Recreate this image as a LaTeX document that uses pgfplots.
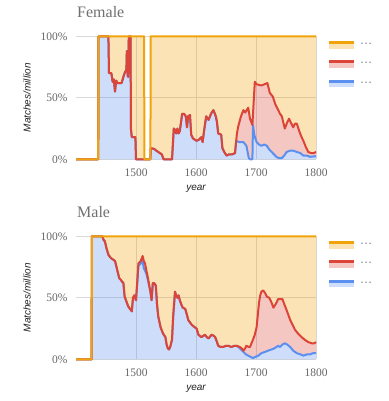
\documentclass[border=0pt]{standalone}
\usepackage{fontspec}
\setmainfont{Liberation Serif}
\setsansfont{Liberation Sans}
\usepackage{pgfplots}
\usepackage{pgfplotstable}
\pgfplotsset{compat=1.18}
\usepgfplotslibrary{fillbetween}
\definecolor{oline}{HTML}{F1A30C}
\definecolor{rline}{HTML}{DC4437}
\definecolor{bline}{HTML}{5B8FF0}
\definecolor{gridc}{HTML}{D9D9D9}
\definecolor{basec}{HTML}{A6A6A6}
\definecolor{tickc}{HTML}{666666}
\definecolor{titlec}{HTML}{707070}
\definecolor{labc}{HTML}{222222}
\definecolor{dotc}{HTML}{7A8499}

% ---------- Female ----------
\pgfplotstableread{
x y
1400 0
1437 0
1437.5 100
1513.5 100
1514 0
1524 0
1524.5 100
1800 100
}\femO
\pgfplotstableread{
x y
1400 0
1437 0
1437.5 100
1454 100
1455 70
1459 70
1461 63
1463 65
1465 55
1467 64
1469 62
1476 62
1479 67
1481 70
1484 73
1484.7 88
1486 68
1487 67
1488 100
1491 100
1491.5 25
1493 18
1499 18
1500 0
1524 0
1524.5 9
1530 8.5
1534 7
1540 5
1543 4
1546 0
1560 0
1563 25
1565 24
1567 21
1569 25
1571 21
1573 23
1577 37
1580 37
1583 35
1585 26
1587 35
1590 36
1592 20
1595 17
1601 15
1605 16
1609 18
1611 14
1614 25
1617 35
1621 32
1625 37
1629 40
1633 35
1635 30
1637 21
1642 20
1644 9
1647 6
1651 3
1655 4
1660 4
1665 5
1668 20
1670 26
1675 35
1679 40
1682 38
1687 42
1690 33
1694 28
1698 63
1701 61
1709 60
1714 61
1719 62
1723 54
1728 51
1732 45
1737 40
1740 37
1743 35
1748 25
1752 30
1755 33
1758 30
1762 26
1765 29
1768 29
1772 23
1776 18
1779 15
1783 10
1787 6
1792 5
1796 5
1800 6
}\femR
\pgfplotstableread{
x y
1400 0
1437 0
1437.5 100
1454 100
1455 70
1459 70
1461 63
1463 65
1465 55
1467 64
1469 62
1476 62
1479 67
1481 70
1484 73
1484.7 88
1486 68
1487 67
1488 100
1491 100
1491.5 25
1493 18
1499 18
1500 0
1524 0
1524.5 9
1530 8.5
1534 7
1540 5
1543 4
1546 0
1560 0
1563 25
1565 24
1567 21
1569 25
1571 21
1573 23
1577 37
1580 37
1583 35
1585 26
1587 35
1590 36
1592 20
1595 17
1601 15
1605 16
1609 18
1611 14
1614 25
1617 35
1621 32
1625 37
1629 40
1633 35
1635 30
1637 21
1642 20
1644 9
1647 6
1651 3
1655 4
1660 4
1665 5
1667 15
1672 14
1679 14
1684 11
1686 6
1688 1
1690 0
1694 0
1695 28
1697 20
1701 14
1705 12
1709 11
1714 12
1718 11
1722 8
1726 6
1730 4
1734 2
1738 1
1743 1
1747 3
1751 6
1757 7
1762 7
1768 6
1774 5
1779 3
1785 3
1790 2
1800 2.5
}\femB

% ---------- Male ----------
\pgfplotstableread{
x y
1400 0
1426 0
1426.5 100
1800 100
}\malO
\pgfplotstableread{
x y
1400 0
1426 0
1426.5 100
1444 100
1446 97
1448 96
1451 90
1454 85
1457 83
1459 82
1462 81
1465 80
1468 74
1470 70
1472 66
1474 65
1477 63
1479 62
1481 51
1484 47
1487 43
1490 41
1493 39
1495 50
1497 52
1500 48
1502 62
1504 78
1508 80
1511 84
1513 80
1515 78
1517 73
1520 66
1522 60
1524 55
1526 48
1528 62
1530 62
1533 60
1535 45
1537 35
1541 26
1545 21
1549 18
1551 12
1553 9
1555 8
1557 10
1560 16
1562 35
1565 55
1567 52
1569 50
1571 52
1573 48
1576 44
1578 42
1582 41
1585 36
1587 32
1590 30
1593 28
1598 26
1601 25
1604 20
1609 18
1615 20
1618 18
1621 17
1626 20
1630 19
1632 18
1635 14
1637 11
1641 10
1645 10
1650 11
1654 11
1659 10
1664 11
1668 11
1673 10
1676 9
1679 7
1682 9
1684 11
1688 10
1690 10
1695 16
1698 20
1701 26
1703 36
1705 46
1707 52
1709 55
1712 56
1715 54
1718 51
1722 50
1726 46
1729 42
1733 45
1737 49
1740 49
1744 49
1747 45
1751 40
1754 36
1757 32
1761 28
1765 24
1770 21
1776 18
1781 16
1787 14
1793 13
1797 13
1800 14
}\malR
\pgfplotstableread{
x y
1400 0
1426 0
1426.5 100
1444 100
1446 97
1448 96
1451 90
1454 85
1457 83
1459 82
1462 81
1465 80
1468 74
1470 70
1472 66
1474 65
1477 63
1479 62
1481 51
1484 47
1487 43
1490 41
1493 39
1495 50
1497 52
1500 48
1502 62
1504 76
1508 78
1511 80
1513 74
1515 72
1517 70
1520 64
1522 60
1524 55
1526 48
1528 62
1530 62
1533 60
1535 45
1537 35
1541 26
1545 21
1549 18
1551 12
1553 9
1555 8
1557 10
1560 16
1562 35
1565 55
1567 52
1569 50
1571 52
1573 48
1576 44
1578 42
1582 41
1585 36
1587 32
1590 30
1593 28
1598 26
1601 25
1604 20
1609 18
1615 20
1618 18
1621 17
1626 20
1630 19
1632 18
1635 14
1637 11
1641 10
1645 10
1650 11
1654 11
1659 10
1664 11
1668 11
1673 9
1679 6
1683 4
1687 3
1691 2
1695 1
1699 2
1704 3
1709 5
1715 6
1720 7
1726 8
1731 9
1737 11
1740 10
1744 12
1748 13
1752 12
1757 10
1762 7
1768 5
1774 4
1779 3
1785 4
1790 4
1795 5
1800 5
}\malB

\pgfplotsset{
  panel/.style={
    scale only axis,
    width=240bp, height=123bp,
    xmin=1400, xmax=1800, ymin=0, ymax=100,
    clip=false,
    axis line style={draw=none},
    major tick length=0pt,
    xtick={1500,1600,1700,1800},
    xticklabels={1500,1600,1700,1800},
    ytick={0,50,100},
    yticklabels={0\%,50\%,100\%},
    grid=major,
    major grid style={color=gridc, line width=1bp},
    extra y ticks={0},
    extra y tick labels={},
    extra y tick style={grid style={color=basec, line width=1bp}},
    tick label style={font=\fontsize{11.5bp}{12bp}\selectfont, text=tickc, inner sep=0pt},
    yticklabel style={anchor=east, xshift=-8.3bp},
    xticklabel style={anchor=north, yshift=-9bp},
    title style={at={(axis description cs:0,1)}, anchor=base west, xshift=1bp, yshift=13bp, inner sep=0pt,
      font=\fontsize{16bp}{16bp}\selectfont, text=titlec},
    ylabel={Matches/million},
    xlabel={year},
    ylabel style={at={(axis description cs:-0.204,0.5)}, anchor=center, inner sep=0pt,
      font=\sffamily\itshape\fontsize{10bp}{10bp}\selectfont, text=labc},
    xlabel style={at={(axis description cs:0.5,-0.238)}, anchor=center, inner sep=0pt,
      font=\sffamily\itshape\fontsize{10bp}{10bp}\selectfont, text=labc},
    legend style={draw=none, fill=none, inner sep=0pt, outer sep=0pt,
      at={(axis description cs:1.054,0.962)}, anchor=north west,
      row sep=12.3bp,
      nodes={inner sep=0pt, text=dotc, font=\sffamily\fontsize{13bp}{13bp}\selectfont}},
  },
  lg/.style={legend image code/.code={
      \fill[#1!30!white] (0bp,-3.35bp) rectangle (24bp,1.35bp);
      \fill[#1] (0bp,1.35bp) rectangle (24bp,3.35bp);}},
}

\begin{document}
\begin{tikzpicture}

\begin{axis}[panel, at={(76bp,241.7bp)}, anchor=south west, title={Female}]
\addplot[draw=none, name path=Z, forget plot] coordinates {(1400,0) (1800,0)};
\addplot[draw=none, name path=B, forget plot] table {\femB};
\addplot[draw=none, name path=R, forget plot] table {\femR};
\addplot[draw=none, name path=O, forget plot] table {\femO};
\addplot[fill=bline, fill opacity=0.3, draw=none, forget plot] fill between[of=B and Z];
\addplot[fill=rline, fill opacity=0.3, draw=none, forget plot] fill between[of=R and B];
\addplot[fill=oline, fill opacity=0.3, draw=none, forget plot] fill between[of=O and R];
\addplot[bline, line width=2bp, line join=round, forget plot] table {\femB};
\addplot[rline, line width=2bp, line join=round, forget plot] table {\femR};
\addplot[oline, line width=2bp, line join=round, forget plot] table {\femO};
\addlegendimage{lg=oline}\addlegendentry{\hspace{6.3bp}…}
\addlegendimage{lg=rline}\addlegendentry{\hspace{6.3bp}…}
\addlegendimage{lg=bline}\addlegendentry{\hspace{6.3bp}…}
\end{axis}

\begin{axis}[panel, at={(76bp,41.7bp)}, anchor=south west, title={Male}]
\addplot[draw=none, name path=Z, forget plot] coordinates {(1400,0) (1800,0)};
\addplot[draw=none, name path=B, forget plot] table {\malB};
\addplot[draw=none, name path=R, forget plot] table {\malR};
\addplot[draw=none, name path=O, forget plot] table {\malO};
\addplot[fill=bline, fill opacity=0.3, draw=none, forget plot] fill between[of=B and Z];
\addplot[fill=rline, fill opacity=0.3, draw=none, forget plot] fill between[of=R and B];
\addplot[fill=oline, fill opacity=0.3, draw=none, forget plot] fill between[of=O and R];
\addplot[bline, line width=2bp, line join=round, forget plot] table {\malB};
\addplot[rline, line width=2bp, line join=round, forget plot] table {\malR};
\addplot[oline, line width=2bp, line join=round, forget plot] table {\malO};
\addlegendimage{lg=oline}\addlegendentry{\hspace{6.3bp}…}
\addlegendimage{lg=rline}\addlegendentry{\hspace{6.3bp}…}
\addlegendimage{lg=bline}\addlegendentry{\hspace{6.3bp}…}
\end{axis}

\pgfresetboundingbox
\path[use as bounding box] (0,0) rectangle (389bp,401bp);
\end{tikzpicture}
\end{document}
